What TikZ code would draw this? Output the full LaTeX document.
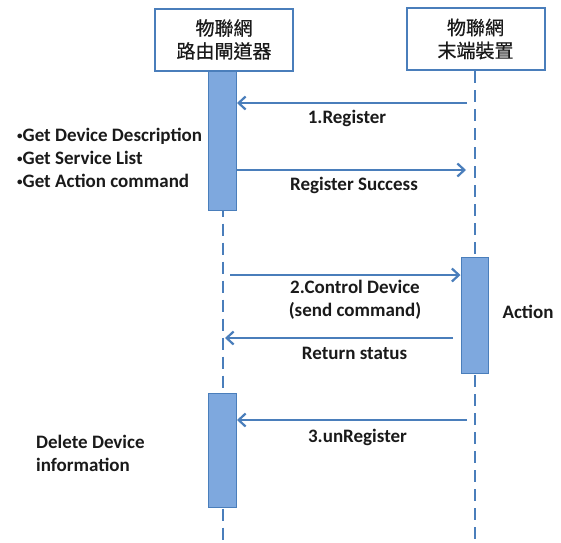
\documentclass[tikz,border=0pt]{standalone}
\usepackage{fontspec}
\setmainfont{Carlito}
\newfontfamily\cjk[FakeBold=0.6]{Noto Sans CJK TC}
\usetikzlibrary{arrows.meta}
\definecolor{lineblue}{HTML}{4A7EBB}
\definecolor{barfill}{HTML}{7EA8DE}
\definecolor{txt}{HTML}{1A1A1A}
\newcommand{\smbul}{{\fontsize{11}{11}\selectfont\raisebox{2.5pt}{•}}}
\tikzset{
  x=1pt,y=-1pt,
  actor/.style={draw=lineblue,line width=2pt,fill=white,minimum width=138pt,minimum height=62pt,inner sep=0pt,align=center,font=\cjk\fontsize{19}{23}\selectfont,text=txt},
  actbar/.style={draw=lineblue,line width=1pt,fill=barfill,minimum width=28pt,inner sep=0pt},
  life/.style={draw=lineblue,line width=2pt,dash pattern=on 12pt off 7pt},
  msg/.style={draw=lineblue,line width=2.2pt,-{Straight Barb[length=7pt,width=13pt,line width=2.2pt]}},
  lbl/.style={font=\bfseries\fontsize{19}{23}\selectfont,text=txt,inner sep=0pt,align=center},
  note/.style={font=\bfseries\fontsize{19}{23}\selectfont,text=txt,inner sep=0pt,align=left,anchor=west}
}
\begin{document}
\begin{tikzpicture}
\useasboundingbox (0,0) rectangle (561,542);
% lifelines
\coordinate (l1end) at (222.5,542);
\coordinate (l2end) at (474.5,542);
\node[actor] (gw) at (224,39.5) {物聯網\\路由閘道器};
\node[actor] (dev) at (475.5,39) {物聯網\\末端裝置};
\draw[life] (gw.south -| l1end) -- (l1end);
\draw[life] (dev.south -| l2end) -- (l2end);
% activation bars
\node[actbar,minimum height=139pt] (act1) at (222.5,140.5) {};
\node[actbar,minimum width=27pt,minimum height=116pt] (act2) at (474.5,315) {};
\node[actbar,minimum height=114pt] (act3) at (222.5,450) {};
% messages
\coordinate (m1s) at (467,103);
\draw[msg] (m1s) -- (m1s -| act1.east);
\node[lbl] (t1) at (347,118) {1.Register};
\coordinate (m2e) at (466,170);
\draw[msg] (act1.east |- m2e) -- (m2e);
\node[lbl] (t2) at (354,185) {Register Success};
\coordinate (m3s) at (230,275);
\draw[msg] (m3s) -- (m3s -| act2.west);
\node[lbl] (t3) at (355,299.5) {2.Control Device\\(send command)};
\coordinate (m4s) at (453,338);
\coordinate (m4e) at (225,338);
\draw[msg] (m4s) -- (m4e);
\node[lbl] (t4) at (354.5,353) {Return status};
\coordinate (m5s) at (467,420);
\draw[msg] (m5s) -- (m5s -| act3.east);
\node[lbl] (t5) at (357.5,437) {3.unRegister};
% notes
\node[note] (n1) at (17,158) {\smbul Get Device Description\\\smbul Get Service List\\\smbul Get Action command};
\node[lbl] (n2) at (528,312) {Action};
\node[note] (n3) at (36,453.5) {Delete Device\\information};
\end{tikzpicture}
\end{document}
